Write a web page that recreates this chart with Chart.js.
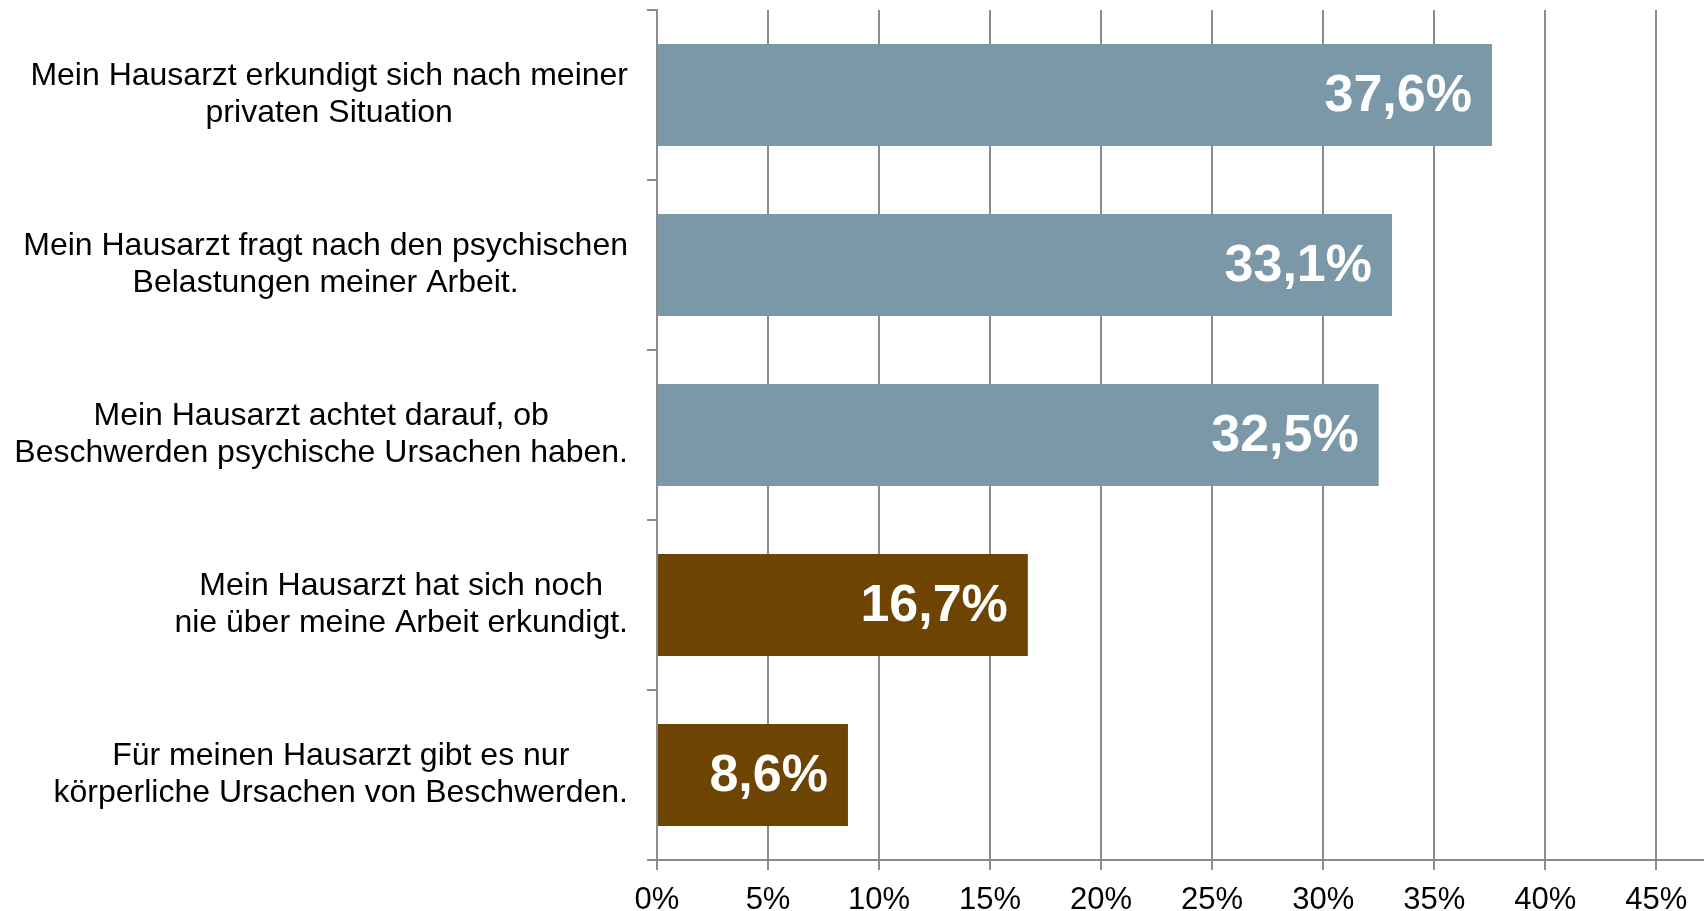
<!DOCTYPE html>
<html>
<head>
<meta charset="utf-8">
<script src="https://cdn.jsdelivr.net/npm/chart.js@4"></script>
<style>
  html, body { margin: 0; padding: 0; background: #fff; }
  #wrap { width: 1704px; height: 911px; }
</style>
</head>
<body>
<div id="wrap"><canvas id="chart" width="1704" height="911"></canvas></div>
<script>
// categories (multi-line, as in the source)
const categories = [
  ['Mein Hausarzt erkundigt sich nach meiner', 'privaten Situation'],
  ['Mein Hausarzt fragt nach den psychischen', 'Belastungen meiner Arbeit.'],
  ['Mein Hausarzt achtet darauf, ob', 'Beschwerden psychische Ursachen haben.'],
  ['Mein Hausarzt hat sich noch', 'nie über meine Arbeit erkundigt.'],
  ['Für meinen Hausarzt gibt es nur', 'körperliche Ursachen von Beschwerden.']
];
const values = [37.6, 33.1, 32.5, 16.7, 8.6];
const barColors = ['#7a98a8', '#7a98a8', '#7a98a8', '#6e4403', '#6e4403'];
const xTicks = [0, 5, 10, 15, 20, 25, 30, 35, 40, 45];

const gridGrey = '#8c8c8c';
const fontFamily = '"Liberation Sans", Arial, sans-serif';

// category labels: each block centred on itself, block right-aligned to the axis
const catLabels = {
  id: 'catLabels',
  afterDraw(chart) {
    const { ctx, scales: { y } } = chart;
    ctx.save();
    ctx.font = '32px ' + fontFamily;
    ctx.fillStyle = '#000';
    ctx.textAlign = 'center';
    ctx.textBaseline = 'middle';
    const right = chart.chartArea.left - 29;
    const lh = 37;
    categories.forEach((lines, i) => {
      const yc = y.getPixelForTick(i);
      const widest = Math.max(...lines.map(l => ctx.measureText(l).width));
      const cx = right - widest / 2;
      lines.forEach((l, k) => {
        ctx.fillText(l, cx, yc + (k - (lines.length - 1) / 2) * lh);
      });
    });
    ctx.restore();
  }
};

// value labels inside the bar ends
const valueLabels = {
  id: 'valueLabels',
  afterDatasetsDraw(chart) {
    const { ctx } = chart;
    const meta = chart.getDatasetMeta(0);
    ctx.save();
    ctx.font = 'bold 52px ' + fontFamily;
    ctx.fillStyle = '#fff';
    ctx.textAlign = 'right';
    ctx.textBaseline = 'middle';
    meta.data.forEach((bar, i) => {
      ctx.fillText(values[i].toFixed(1).replace('.', ',') + '%', bar.x - 20, bar.y + 2);
    });
    ctx.restore();
  }
};

new Chart(document.getElementById('chart'), {
  type: 'bar',
  data: {
    labels: categories,
    datasets: [{
      data: values,
      backgroundColor: barColors,
      barPercentage: 0.6,
      categoryPercentage: 1.0
    }]
  },
  options: {
    indexAxis: 'y',
    responsive: false,
    animation: false,
    layout: { padding: { top: 10, right: 0, left: 0, bottom: 0 } },
    plugins: {
      legend: { display: false },
      tooltip: { enabled: false }
    },
    scales: {
      x: {
        type: 'linear',
        position: 'bottom',
        min: 0,
        max: 47.15, // axis line runs on past the last gridline
        afterBuildTicks: s => { s.ticks = xTicks.map(v => ({ value: v })); },
        afterFit: s => { s.height = 51; },
        ticks: {
          callback: v => v + '%',
          color: '#000',
          font: { family: fontFamily, size: 31 },
          padding: 12
        },
        grid: { color: gridGrey, lineWidth: 2, tickLength: 10 },
        border: { color: gridGrey, width: 2 }
      },
      y: {
        afterFit: s => { s.width = 657; },
        ticks: { display: false },
        grid: { drawOnChartArea: false, drawTicks: true, tickLength: 10, color: gridGrey, lineWidth: 2, offset: true },
        border: { color: gridGrey, width: 2 }
      }
    }
  },
  plugins: [catLabels, valueLabels]
});
</script>
</body>
</html>
